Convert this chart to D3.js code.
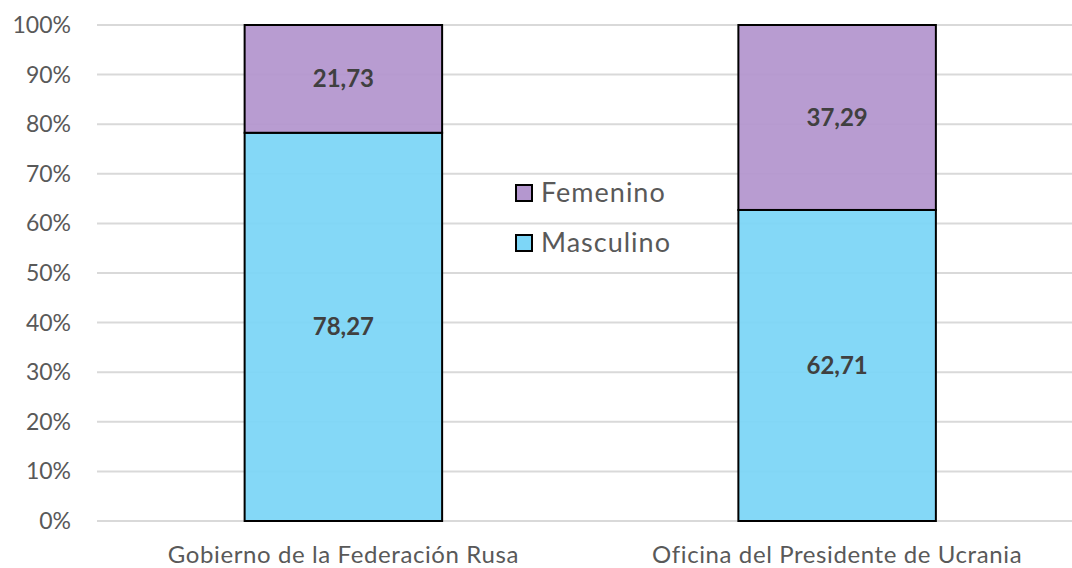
<!DOCTYPE html>
<html>
<head>
<meta charset="utf-8">
<script src="https://cdn.jsdelivr.net/npm/d3@7"></script>
<style>
  body { margin: 0; background: #fff; }
  svg { display: block; font-family: Lato, "Open Sans", sans-serif; }
</style>
</head>
<body>
<svg id="chart" width="1072" height="568"></svg>
<script>
const categories = ["Gobierno de la Federación Rusa", "Oficina del Presidente de Ucrania"];
const masculino = [78.27, 62.71];
const femenino = [21.73, 37.29];
const yTicks = [0, 10, 20, 30, 40, 50, 60, 70, 80, 90, 100];

const width = 1072, height = 568;
const margin = {top: 25, bottom: 47, left: 97, right: -12};

const svg = d3.select("#chart");

const x = d3.scaleBand()
  .domain(categories)
  .range([margin.left - 0.5, width - margin.right])
  .paddingInner(0.6)
  .paddingOuter(0.3);

const y = d3.scaleLinear()
  .domain([0, 100])
  .range([height - margin.bottom, margin.top]);

// gridlines
svg.append("g")
  .selectAll("line")
  .data(yTicks)
  .join("line")
    .attr("x1", margin.left)
    .attr("x2", width)
    .attr("y1", d => y(d))
    .attr("y2", d => y(d))
    .attr("stroke", "#d9d9d9")
    .attr("stroke-width", 2);

// y axis labels
svg.append("g")
  .selectAll("text")
  .data(yTicks)
  .join("text")
    .attr("x", 71)
    .attr("y", d => y(d))
    .attr("dy", "0.35em")
    .attr("text-anchor", "end")
    .attr("fill", "#595959")
    .style("font-size", "23px")
    .text(d => d + "%");

// stacked data
const rows = categories.map((c, i) => ({cat: c, m: masculino[i], f: femenino[i]}));
const series = [
  {key: "m", color: "#7dd6f7", label: "Masculino"},
  {key: "f", color: "#b497cf", label: "Femenino"}
];

rows.forEach(r => {
  let base = 0;
  series.forEach(s => {
    const v = r[s.key];
    svg.append("rect")
      .attr("x", x(r.cat))
      .attr("width", x.bandwidth())
      .attr("y", y(base + v))
      .attr("height", y(base) - y(base + v))
      .attr("fill", s.color)
      .attr("fill-opacity", 0.95)
      .attr("stroke", "#000")
      .attr("stroke-width", 2);
    svg.append("text")
      .attr("x", x(r.cat) + x.bandwidth() / 2)
      .attr("y", y(base + v / 2))
      .attr("dy", "0.35em")
      .attr("text-anchor", "middle")
      .attr("fill", "#404040")
      .style("font-size", "24px")
      .style("font-weight", "bold")
      .text(v.toFixed(2).replace(".", ","));
    base += v;
  });
});

// x labels
svg.append("g")
  .selectAll("text")
  .data(categories)
  .join("text")
    .attr("x", d => x(d) + x.bandwidth() / 2)
    .attr("y", 555)
    .attr("dy", "0.35em")
    .attr("text-anchor", "middle")
    .attr("fill", "#595959")
    .style("font-size", "24px")
    .style("letter-spacing", "0.6px")
    .text(d => d);

// legend
const legendItems = [series[1], series[0]];
const legend = svg.append("g")
  .selectAll("g")
  .data(legendItems)
  .join("g")
    .attr("transform", (d, i) => "translate(516," + (193 + i * 50) + ")");
legend.append("rect")
  .attr("x", 0)
  .attr("y", -8)
  .attr("width", 16)
  .attr("height", 16)
  .attr("fill", d => d.color)
  .attr("stroke", "#000")
  .attr("stroke-width", 2);
legend.append("text")
  .attr("x", 25)
  .attr("dy", "0.35em")
  .attr("fill", "#595959")
  .style("font-size", "27px")
  .style("letter-spacing", "1px")
  .text(d => d.label);
</script>
</body>
</html>
